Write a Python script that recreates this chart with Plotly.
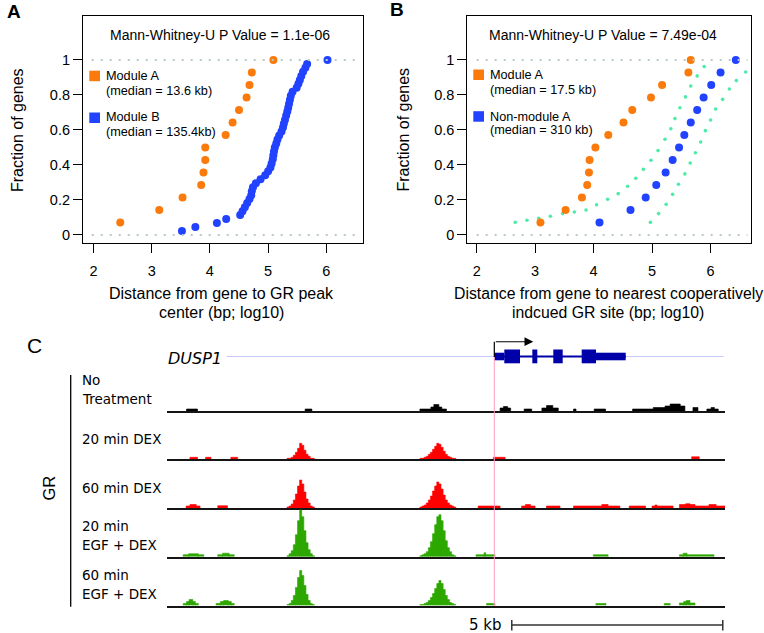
import plotly.graph_objects as go

W, H = 764, 633

# ---------------- Panel A data ----------------
a_modA_x = [2.46, 3.13, 3.53, 3.85, 3.89, 3.92, 3.92, 4.27, 4.39, 4.50, 4.63, 4.68, 4.72, 5.09]
a_modA_y = [0.071, 0.143, 0.214, 0.286, 0.357, 0.429, 0.5, 0.571, 0.643, 0.714, 0.786, 0.857, 0.929, 1.0]
a_modB_x = [3.52, 3.75, 4.12, 4.28, 4.52, 4.56, 4.60, 4.64, 4.68, 4.71, 4.72, 4.74, 4.79, 4.87,
            4.95, 5.00, 5.04, 5.06, 5.08, 5.09, 5.10, 5.115, 5.14, 5.16, 5.19, 5.23, 5.255, 5.27,
            5.29, 5.31, 5.33, 5.345, 5.36, 5.375, 5.39, 5.42, 5.49, 5.52, 5.545, 5.57, 5.60, 5.64,
            5.67, 6.02]
a_modB_y = [0.023, 0.045, 0.068, 0.091, 0.114, 0.136, 0.159, 0.182, 0.205, 0.227, 0.25, 0.273,
            0.295, 0.318, 0.341, 0.364, 0.386, 0.409, 0.432, 0.455, 0.477, 0.5, 0.523, 0.545,
            0.568, 0.591, 0.614, 0.636, 0.659, 0.682, 0.705, 0.727, 0.75, 0.773, 0.795, 0.818,
            0.841, 0.864, 0.886, 0.909, 0.932, 0.955, 0.977, 1.0]

# ---------------- Panel B data ----------------
b_modA_x = [3.09, 3.52, 3.80, 3.89, 3.92, 3.93, 4.03, 4.25, 4.51, 4.66, 4.98, 5.17, 5.62, 5.66]
b_modA_y = [0.071, 0.143, 0.214, 0.286, 0.357, 0.429, 0.5, 0.571, 0.643, 0.714, 0.786, 0.857, 0.929, 1.0]
b_non_x = [4.10, 4.63, 4.89, 5.07, 5.23, 5.35, 5.46, 5.55, 5.66, 5.77, 5.88, 6.01, 6.17, 6.43]
b_non_y = [0.071, 0.143, 0.214, 0.286, 0.357, 0.429, 0.5, 0.571, 0.643, 0.714, 0.786, 0.857, 0.929, 1.0]
band_left_x = [2.66, 2.86, 3.06, 3.26, 3.47, 3.67, 3.87, 4.05, 4.24, 4.42, 4.58, 4.72, 4.85, 4.98,
               5.10, 5.22, 5.32, 5.39, 5.475, 5.57, 5.66, 5.77, 5.89]
band_left_y = [0.072, 0.084, 0.095, 0.107, 0.122, 0.131, 0.143, 0.173, 0.204, 0.236, 0.278, 0.324,
               0.375, 0.427, 0.482, 0.547, 0.607, 0.665, 0.727, 0.789, 0.851, 0.909, 0.962]
band_right_x = [4.97, 5.11, 5.24, 5.35, 5.45, 5.56, 5.65, 5.74, 5.83, 5.91, 6.00, 6.085, 6.205,
                6.32, 6.44, 6.60]
band_right_y = [0.072, 0.122, 0.175, 0.232, 0.29, 0.349, 0.411, 0.47, 0.531, 0.596, 0.657, 0.72,
                0.775, 0.834, 0.882, 0.931]

frac_ticks = [0, 0.2, 0.4, 0.6, 0.8, 1]
frac_labels = ["0", "0.2", "0.4", "0.6", "0.8", "1"]
log_ticks = [2, 3, 4, 5, 6]

# ---------------- Panel C data (kb from left edge of window) ----------------
track_names = [["No", "Treatment"], ["20 min DEX"], ["60 min DEX"], ["20 min", "EGF + DEX"],
               ["60 min", "EGF + DEX"]]
peak1_start, peak2_start, peak_bin = 2.85, 6.0, 0.05
nt_p1 = []
nt_p2 = []
dex20_p1 = [1, 1, 2, 4, 7, 11, 16, 14, 9, 5, 3, 1, 1]
dex20_p2 = [1, 1, 2, 3, 5, 7, 10, 13, 16, 15, 12, 8, 5, 3, 2, 1, 1]
dex60_p1 = [1, 2, 4, 8, 14, 22, 28, 24, 16, 9, 5, 2, 1]
dex60_p2 = [1, 2, 3, 5, 8, 12, 17, 22, 26, 24, 19, 13, 8, 5, 3, 2, 1]
egf20_p1 = [1, 3, 6, 12, 22, 36, 50, 40, 26, 14, 7, 3, 1]
egf20_p2 = [1, 2, 3, 5, 9, 15, 23, 32, 40, 42, 36, 26, 16, 9, 5, 2, 1]
egf60_p1 = [1, 2, 5, 10, 18, 28, 35, 30, 20, 11, 5, 2, 1]
egf60_p2 = [1, 1, 2, 3, 5, 8, 12, 17, 22, 25, 22, 16, 10, 6, 3, 2, 1]

nt_start = [0.47, 3.28, 6.00, 6.26, 6.33, 6.45, 6.52, 7.90, 7.98, 8.08, 8.47, 8.89, 9.00, 9.15,
            9.64, 10.13, 11.04, 11.53, 11.81, 11.93, 12.17, 12.47, 12.80, 12.90, 12.98]
nt_end = [0.73, 3.44, 6.26, 6.33, 6.45, 6.52, 6.63, 7.98, 8.08, 8.15, 8.65, 9.00, 9.15, 9.28,
          9.70, 10.40, 11.53, 11.81, 11.93, 12.17, 12.28, 12.59, 12.90, 12.98, 13.07]
nt_val = [2, 2, 2, 4, 6.5, 4, 2, 3, 4.5, 3, 2, 3, 5.5, 3, 2, 2, 2, 3.5, 5, 7, 5, 3.5, 2, 3.5, 2]

dex20_start = [0.55, 0.92, 1.52, 7.74, 12.44]
dex20_end = [0.73, 1.05, 1.68, 8.02, 12.62]
dex20_val = [2, 2, 2, 2, 2.5]

dex60_start = [0.46, 0.55, 0.70, 1.21, 7.38, 8.41, 8.50, 8.62, 9.00, 9.64, 10.31, 10.46, 10.96,
               11.50, 11.57, 11.62, 12.15, 12.30, 12.40, 12.52, 12.85, 13.02]
dex60_end = [0.55, 0.70, 0.79, 1.44, 7.90, 8.50, 8.62, 8.73, 9.32, 10.31, 10.46, 10.74, 11.35,
             11.57, 11.62, 12.00, 12.30, 12.40, 12.52, 12.85, 13.02, 13.23]
dex60_val = [2, 3.5, 2, 2.3, 2, 2, 3.5, 2, 2, 2, 3.5, 2, 2, 2, 3, 2, 3.5, 4.3, 3.5, 2, 3.5, 2]

egf20_start = [0.39, 0.52, 0.75, 1.21, 1.32, 1.48, 7.33, 7.52, 7.56, 10.11, 12.15, 12.24, 12.33]
egf20_end = [0.52, 0.75, 0.88, 1.32, 1.48, 1.60, 7.52, 7.56, 7.78, 10.46, 12.24, 12.33, 12.97]
egf20_val = [2, 3, 2, 2, 3.5, 2, 2, 4, 2, 2, 2, 3.5, 2]

egf60_start = [0.39, 0.47, 0.53, 0.62, 0.68, 1.17, 1.27, 1.35, 1.46, 1.53, 7.58, 10.17, 11.79,
               12.15, 12.25, 12.31, 12.40]
egf60_end = [0.47, 0.53, 0.62, 0.68, 0.75, 1.27, 1.35, 1.46, 1.53, 1.60, 7.78, 10.41, 11.93,
             12.25, 12.31, 12.40, 12.52]
egf60_val = [2, 4, 6, 4, 2, 2, 4, 5, 4, 2, 2, 2, 2, 2.5, 4, 5, 2.5]

# DUSP1 gene model (kb)
gene_line_start, gene_line_end = 1.44, 13.20
tss_kb, gene_end_kb = 7.763, 10.877
cds_start = [8.000, 8.664, 9.161, 9.834]
cds_end = [8.372, 8.782, 9.384, 10.173]
utr_start = [7.763, 10.173]
utr_end = [8.000, 10.877]
scale_start, scale_len = 8.177, 5.0

# ---------------- helpers ----------------
def px(x):
    return x / W

def py(y):
    return 1 - y / H

FONT = "Arial, Liberation Sans, sans-serif"
TFONT = "DejaVu Sans, Verdana, sans-serif"
ORANGE = "#FA7B0C"
BLUE = "#2142FF"
MINT = "#4DEBA8"
GREYDOT = "#B7CBC6"
RED = "#FF0000"
GREEN = "#2EA800"

fig = go.Figure()

# Panel A scatter
fig.add_trace(go.Scatter(x=a_modA_x, y=a_modA_y, mode="markers",
                         marker=dict(color=ORANGE, size=8), xaxis="x", yaxis="y"))
fig.add_trace(go.Scatter(x=a_modB_x, y=a_modB_y, mode="markers",
                         marker=dict(color=BLUE, size=8), xaxis="x", yaxis="y"))
# Panel B scatter
fig.add_trace(go.Scatter(x=band_left_x, y=band_left_y, mode="markers",
                         marker=dict(color=MINT, size=3.6), xaxis="x2", yaxis="y2"))
fig.add_trace(go.Scatter(x=band_right_x, y=band_right_y, mode="markers",
                         marker=dict(color=MINT, size=3.6), xaxis="x2", yaxis="y2"))
fig.add_trace(go.Scatter(x=b_modA_x, y=b_modA_y, mode="markers",
                         marker=dict(color=ORANGE, size=8), xaxis="x2", yaxis="y2"))
fig.add_trace(go.Scatter(x=b_non_x, y=b_non_y, mode="markers",
                         marker=dict(color=BLUE, size=8), xaxis="x2", yaxis="y2"))

# Panel C tracks: filled step profiles
track_color = ["#000000", RED, RED, GREEN, GREEN]
track_segments = [(nt_start, nt_end, nt_val), (dex20_start, dex20_end, dex20_val),
                  (dex60_start, dex60_end, dex60_val), (egf20_start, egf20_end, egf20_val),
                  (egf60_start, egf60_end, egf60_val)]
track_peaks = [(nt_p1, nt_p2), (dex20_p1, dex20_p2), (dex60_p1, dex60_p2),
               (egf20_p1, egf20_p2), (egf60_p1, egf60_p2)]
for i in range(5):
    s, e, v = track_segments[i]
    segs = list(zip(s, e, v))
    p1, p2 = track_peaks[i]
    for start, prof in [(peak1_start, p1), (peak2_start, p2)]:
        for j, val in enumerate(prof):
            segs.append((start + j * peak_bin, start + (j + 1) * peak_bin, val))
    segs.sort()
    xs, ys = [], []
    for a, b, val in segs:
        xs += [a, a, b, b, None]
        ys += [0, val, val, 0, None]
    fig.add_trace(go.Scatter(x=xs, y=ys, mode="lines", fill="toself",
                             fillcolor=track_color[i], line=dict(width=0.6, color=track_color[i]),
                             xaxis=f"x{i+3}", yaxis=f"y{i+3}"))

# track baselines in px
baselines = [411.0, 459.3, 508.0, 556.7, 605.5]
track_h = 47

layout = dict(
    width=W, height=H, margin=dict(l=0, r=0, t=0, b=0),
    paper_bgcolor="white", plot_bgcolor="rgba(0,0,0,0)",
    showlegend=False,
    font=dict(family=FONT, color="black"),
)

scatter_x = dict(range=[1.82, 6.63], tickvals=log_ticks, ticks="outside", ticklen=9,
                 tickwidth=1.2, tickcolor="black", showline=True, mirror=True,
                 linecolor="black", linewidth=1.2, showgrid=False, zeroline=False,
                 tickfont=dict(size=14.5, family=FONT), ticklabelstandoff=5)
scatter_y = dict(range=[-0.046, 1.253], tickvals=frac_ticks, ticktext=frac_labels,
                 ticks="outside", ticklen=9, tickwidth=1.2, tickcolor="black",
                 showline=True, mirror=True, linecolor="black", linewidth=1.2,
                 showgrid=False, zeroline=False, tickfont=dict(size=14.5, family=FONT),
                 domain=[py(243), py(15.7)])
layout["xaxis"] = dict(scatter_x, domain=[px(83), px(363)], anchor="y")
layout["yaxis"] = dict(scatter_y, anchor="x")
layout["xaxis2"] = dict(scatter_x, domain=[px(467.3), px(751)], anchor="y2",
                        range=[1.84, 6.69])
layout["yaxis2"] = dict(scatter_y, anchor="x2")

for i in range(5):
    b = baselines[i]
    layout[f"xaxis{i+3}"] = dict(domain=[px(166.7), px(725)], range=[0, 13.23],
                                 anchor=f"y{i+3}", showline=True, linecolor="#151515",
                                 linewidth=2, showgrid=False, zeroline=False,
                                 showticklabels=False, ticks="")
    layout[f"yaxis{i+3}"] = dict(domain=[py(b), py(b - track_h)], range=[0, track_h],
                                 anchor=f"x{i+3}", visible=False)

shapes = []
# dotted reference lines at 0 and 1
for xr, yr, x0, x1 in [("x", "y", 1.97, 6.6), ("x2", "y2", 2.0, 6.63)]:
    for yv in [0, 1]:
        shapes.append(dict(type="line", xref=xr, yref=yr, x0=x0, x1=x1, y0=yv, y1=yv,
                           line=dict(color=GREYDOT, width=2, dash="2px,7px"), layer="above"))

# legend squares
for x0, y0, col in [(89.3, 70.7, ORANGE), (89.3, 112.5, BLUE), (473.3, 69.5, ORANGE),
                    (473.3, 111.2, BLUE)]:
    shapes.append(dict(type="rect", xref="paper", yref="paper", x0=px(x0), x1=px(x0 + 10.7),
                       y0=py(y0 + 10.5), y1=py(y0), fillcolor=col, line=dict(width=0)))

# gene model
shapes.append(dict(type="line", xref="x3", yref="paper", x0=gene_line_start, x1=gene_line_end,
                   y0=py(356.5), y1=py(356.5), line=dict(color="#8F8FFF", width=1, dash="1px,1px")))
shapes.append(dict(type="line", xref="x3", yref="paper", x0=tss_kb, x1=gene_end_kb,
                   y0=py(356.5), y1=py(356.5), line=dict(color="#0000A8", width=2)))
for s, e in zip(cds_start, cds_end):
    shapes.append(dict(type="rect", xref="x3", yref="paper", x0=s, x1=e, y0=py(363.3),
                       y1=py(349.5), fillcolor="#0000A8", line=dict(width=0)))
for s, e in zip(utr_start, utr_end):
    shapes.append(dict(type="rect", xref="x3", yref="paper", x0=s, x1=e, y0=py(360.3),
                       y1=py(352.7), fillcolor="#0000A8", line=dict(width=0)))
# TSS arrow stem
shapes.append(dict(type="line", xref="x3", yref="paper", x0=tss_kb, x1=tss_kb,
                   y0=py(357), y1=py(341.7), line=dict(color="black", width=1.2)))
# pink guide line
shapes.append(dict(type="line", xref="x3", yref="paper", x0=tss_kb, x1=tss_kb,
                   y0=py(357), y1=py(606), line=dict(color="#FF9CC2", width=1), layer="above"))
# GR bracket
shapes.append(dict(type="line", xref="paper", yref="paper", x0=px(70.7), x1=px(70.7),
                   y0=py(375), y1=py(606.7), line=dict(color="black", width=1.3)))
# scale bar
shapes.append(dict(type="line", xref="x3", yref="paper", x0=scale_start,
                   x1=scale_start + scale_len, y0=py(625), y1=py(625),
                   line=dict(color="#333333", width=1.5)))
for xv in [scale_start, scale_start + scale_len]:
    shapes.append(dict(type="line", xref="x3", yref="paper", x0=xv, x1=xv, y0=py(620),
                       y1=py(630.5), line=dict(color="#333333", width=1.5)))
layout["shapes"] = shapes

ann = []
def text(x, y, s, size, xanchor="center", family=FONT, **kw):
    ann.append(dict(xref="paper", yref="paper", x=px(x), y=py(y), text=s, showarrow=False,
                    xanchor=xanchor, yanchor="middle", font=dict(size=size, family=family,
                                                                  color="black"), **kw))

text(220, 35, "Mann-Whitney-U P Value = 1.1e-06", 14)
text(603, 35, "Mann-Whitney-U P Value = 7.49e-04", 14)
text(104, 75.5, "Module A", 12.7, "left")
text(104, 90.7, "(median = 13.6 kb)", 12.7, "left")
text(104, 117.3, "Module B", 12.7, "left")
text(104, 131.7, "(median = 135.4kb)", 12.7, "left")
text(488, 75, "Module A", 12.7, "left")
text(488, 89.5, "(median = 17.5 kb)", 12.7, "left")
text(488, 116.7, "Non-module A", 12.7, "left")
text(488, 130.5, "(median = 310 kb)", 12.7, "left")
text(17, 130, "Fraction of genes", 16, textangle=-90)
text(402.5, 130, "Fraction of genes", 16, textangle=-90)
text(221, 293, "Distance from gene to GR peak", 16)
text(221, 312, "center (bp; log10)", 16)
text(608, 293, "Distance from gene to nearest cooperatively", 15.8)
text(608, 312, "indcued GR site (bp; log10)", 15.8)
text(14, 12, "<b>A</b>", 19)
text(397, 10, "<b>B</b>", 19)
text(34, 345, "C", 21)
text(165.5, 358.5, "<i>DUSP1</i>", 16, "left", family=TFONT)
text(48.5, 488, "GR", 16.5, textangle=-90)
label_y = [[380, 399.3], [439], [488.3], [525.7, 545], [575, 594]]
for names, ys in zip(track_names, label_y):
    for nm, yv in zip(names, ys):
        text(79.5, yv, nm, 13.5, "left", family=TFONT)
text(504, 625, "5 kb", 15, "right", family=TFONT)

# TSS arrow head
ann.append(dict(xref="x3", yref="paper", x=8.687, y=py(341.7), ax=-39, ay=0,
                axref="pixel", ayref="pixel", text="", showarrow=True, arrowhead=2,
                arrowsize=1.6, arrowwidth=1.1, arrowcolor="black"))
layout["annotations"] = ann

fig.update_layout(**layout)
fig.write_html("out.html", config={"displayModeBar": False},
               post_script="document.body.style.margin='0';document.body.style.padding='0';")
